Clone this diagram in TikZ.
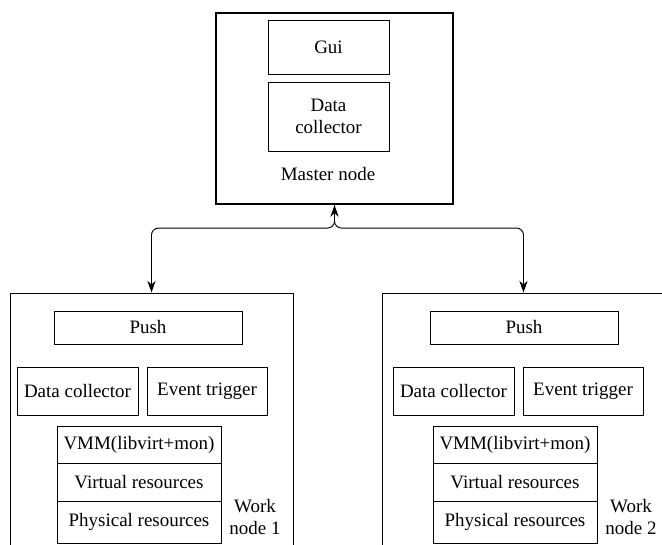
\documentclass[tikz,border=0pt]{standalone}
\usepackage{fontspec}
\newfontfamily\labelfont{Liberation Serif}
\usetikzlibrary{arrows.meta,positioning}

\tikzset{
  box/.style={draw, line width=0.8pt},
  link/.style={line width=0.8pt, rounded corners=6pt},
  tip/.tip={Stealth[length=10pt, width=7pt]}
}

\begin{document}
\begin{tikzpicture}[x=0.03cm, y=-0.03cm, every node/.style={font=\labelfont\fontsize{16.2}{19}\selectfont, align=center, inner sep=0pt}]
      \useasboundingbox (0,0) rectangle (662,545);
      \clip (0,0) rectangle (662,545);

      % master
      \node[draw, line width=1.8pt, minimum width=7.11cm, minimum height=5.73cm] (master) at (334.5,108.5) {};
      \node[box, minimum width=3.63cm, minimum height=1.62cm] (gui) at (328.5,47) {Gui};
      \node[box, minimum width=3.63cm, minimum height=2.07cm] (dcm) at (328.5,116.5) {Data\\collector};
      \node (mlabel) at (328,174) {Master node};

      % work nodes
      \foreach \i/\dx/\bx in {1/0/151.5, 2/376/523.5} {
        \node[box, minimum width=8.49cm, minimum height=8.01cm] (wn\i) at (\bx,426.5) {};
        \node[box, minimum width=5.64cm, minimum height=0.99cm] (push\i) at (148+\dx,327.5) {Push};
        \node[box, minimum width=3.63cm, minimum height=1.44cm] (dc\i) at (77.5+\dx,391) {Data collector};
        \node[box, minimum width=3.6cm, minimum height=1.44cm] (et\i) at (207+\dx,391) {Event trigger};
        \node[box, minimum width=4.92cm, minimum height=1.11cm] (vmm\i) at (139+\dx,444.5) {VMM(libvirt+mon)};
        \node[box, minimum width=4.92cm, minimum height=1.14cm] (vr\i) at (139+\dx,482) {Virtual resources};
        \node[box, minimum width=4.92cm, minimum height=1.26cm] (pr\i) at (139+\dx,522) {Physical resources};
        \node (wl\i) at (255+\dx,517) {Work\\node \i};
      }

      \draw[link, tip-tip] (master.south) -- ++(0,23) -| (wn1.north);
      \draw[link, -tip] (master.south) -- ++(0,23) -| (wn2.north);
\end{tikzpicture}
\end{document}
